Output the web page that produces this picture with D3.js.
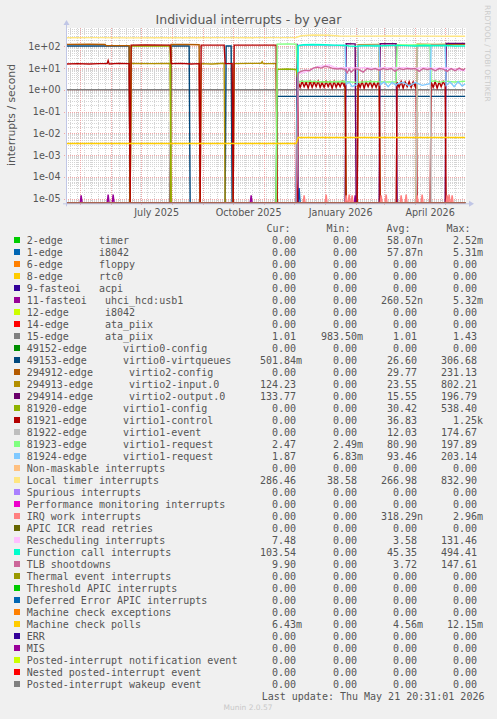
<!DOCTYPE html>
<html><head><meta charset="utf-8">
<script src="https://cdn.jsdelivr.net/npm/d3@7"></script>
<style>
html,body{margin:0;padding:0;background:#f0f0f0;}
svg{display:block;}
text{font-family:"DejaVu Sans",sans-serif;}
.mono{font-family:"DejaVu Sans Mono",monospace;font-size:10px;fill:#555;white-space:pre;}
</style></head><body>
<svg id="c" width="497" height="719"></svg>
<script>
// ---------------- DATA ----------------
const chartTitle = "Individual interrupts - by year";
const yAxisTitle = "interrupts / second";
const watermark = "RRDTOOL / TOBI OETIKER";
const lastUpdate = "Last update: Thu May 21 20:31:01 2026";
const munin = "Munin 2.0.57";
const timeStart = "2025-04-16 20:31";
const timeEnd = "2026-05-21 20:31";

const yTickValues = [1e-5, 1e-4, 1e-3, 1e-2, 1e-1, 1e0, 1e1, 1e2];
const yTickLabels = ["1e-05","1e-04","1e-03","1e-02","1e-01","1e+00","1e+01","1e+02"];
const xTickMonths = ["2025-07","2025-10","2026-01","2026-04"];
const xTickLabels = ["July 2025","October 2025","January 2026","April 2026"];

const legendNames = [
"2-edge      timer","1-edge      i8042","6-edge      floppy","8-edge      rtc0",
"9-fasteoi   acpi","11-fasteoi   uhci_hcd:usb1","12-edge      i8042","14-edge      ata_piix",
"15-edge      ata_piix","49152-edge      virtio0-config","49153-edge      virtio0-virtqueues",
"294912-edge      virtio2-config","294913-edge      virtio2-input.0","294914-edge      virtio2-output.0",
"81920-edge      virtio1-config","81921-edge      virtio1-control","81922-edge      virtio1-event",
"81923-edge      virtio1-request","81924-edge      virtio1-request",
"Non-maskable interrupts","Local timer interrupts","Spurious interrupts",
"Performance monitoring interrupts","IRQ work interrupts","APIC ICR read retries",
"Rescheduling interrupts","Function call interrupts","TLB shootdowns",
"Thermal event interrupts","Threshold APIC interrupts","Deferred Error APIC interrupts",
"Machine check exceptions","Machine check polls","ERR","MIS",
"Posted-interrupt notification event","Nested posted-interrupt event","Posted-interrupt wakeup event"];

const colors = ["#00CC00","#0066B3","#FF8000","#FFCC00","#330099","#990099","#CCFF00","#FF0000","#808080",
"#008F00","#00487D","#B35A00","#B38F00","#6B006B","#8FB300","#B30000","#BEBEBE","#80FF80","#80C9FF",
"#FFC080","#FFE680","#AA80FF","#EE00CC","#FF8080","#666600","#FFBFFF","#00FFCC","#CC6699","#999900",
"#00CC00","#0066B3","#FF8000","#FFCC00","#330099","#990099","#CCFF00","#FF0000","#808080"];

const curVals = ["0.00","0.00","0.00","0.00","0.00","0.00","0.00","0.00","1.01","0.00","501.84m","0.00","124.23","133.77","0.00","0.00","0.00","2.47","1.87","0.00","286.46","0.00","0.00","0.00","0.00","7.48","103.54","9.90","0.00","0.00","0.00","0.00","6.43m","0.00","0.00","0.00","0.00","0.00"];
const minVals = ["0.00","0.00","0.00","0.00","0.00","0.00","0.00","0.00","983.50m","0.00","0.00","0.00","0.00","0.00","0.00","0.00","0.00","2.49m","6.83m","0.00","38.58","0.00","0.00","0.00","0.00","0.00","0.00","0.00","0.00","0.00","0.00","0.00","0.00","0.00","0.00","0.00","0.00","0.00"];
const avgVals = ["58.07n","57.87n","0.00","0.00","0.00","260.52n","0.00","0.00","1.01","0.00","26.60","29.77","23.55","15.55","30.42","36.83","12.03","80.90","93.46","0.00","266.98","0.00","0.00","318.29n","0.00","3.58","45.35","3.72","0.00","0.00","0.00","0.00","4.56m","0.00","0.00","0.00","0.00","0.00"];
const maxVals = ["2.52m","5.31m","0.00","0.00","0.00","5.32m","0.00","0.00","1.43","0.00","306.68","231.13","802.21","196.79","538.40","1.25k","174.67","197.89","203.14","0.00","832.90","0.00","0.00","2.96m","0.00","131.46","494.41","147.61","0.00","0.00","0.00","0.00","12.15m","0.00","0.00","0.00","0.00","0.00"];

const zeroLine = [["2025-04-16",0],["2026-05-21",0]];

const irq2 = [["2025-04-16",0.000015],["2025-04-17",0],["2026-05-21",0]];
const irq1 = [["2025-04-16",0],["2025-12-05",0],["2025-12-06",0.00003],["2025-12-07",0],["2026-05-21",0]];
const irq11 = [["2025-04-16",0],["2025-05-01",0],["2025-05-02",0.000014],["2025-05-03",0],["2025-05-28",0],["2025-05-29",0.000015],["2025-05-30",0],["2025-06-02",0],["2025-06-03",0.000015],["2025-06-04",0],["2025-10-18",0],["2025-10-19",0.000014],["2025-10-20",0],["2026-01-30",0],["2026-01-31",0.000014],["2026-02-01",0],["2026-05-21",0]];
const irq15 = [["2025-04-16",1.01],["2025-07-01",1.0],["2025-10-01",1.01],["2026-01-01",1.0],["2026-05-21",1.01]];
const irq49153 = [["2025-04-16",0],["2025-04-17",105],["2025-05-20",104],["2025-06-19",105],["2025-06-20",0],["2025-07-30",0],["2025-07-31",104],["2025-08-18",103],["2025-08-19",0],["2025-09-23",0],["2025-09-24",104],["2025-09-29",103],["2025-09-30",0],["2025-11-13",0],["2025-11-14",0.5],["2026-02-01",0.5],["2026-05-21",0.5]];
const irq294912 = [["2025-04-16",0],["2025-04-17",123],["2025-05-10",124],["2025-05-26",122],["2025-05-27",108],["2025-06-19",108],["2025-06-20",0],["2025-07-30",0],["2025-07-31",122],["2025-08-15",121],["2025-08-28",118],["2025-08-29",0],["2026-05-21",0]];
const irq294913 = [["2025-04-16",0],["2025-06-20",0],["2025-06-21",16.5],["2025-07-10",16],["2025-07-30",16.5],["2025-07-31",0],["2025-08-29",0],["2025-08-30",16],["2025-09-10",15.5],["2025-09-22",16.5],["2025-09-23",0],["2025-10-01",0],["2025-10-02",16],["2025-10-20",16.5],["2025-10-29",16.5],["2025-10-30",19.5],["2025-10-31",16],["2025-11-13",16],["2025-11-14",0],["2026-02-02",0],["2026-02-03",120],["2026-02-24",121],["2026-02-25",0],["2026-04-02",0],["2026-04-03",124],["2026-04-20",122],["2026-05-21",124]];
const irq294914 = [["2025-04-16",0],["2025-12-03",0],["2025-12-04",130],["2025-12-05",0],["2026-01-21",0],["2026-01-22",132],["2026-01-31",130],["2026-02-01",0],["2026-02-24",0],["2026-02-25",133],["2026-03-13",132],["2026-03-14",0],["2026-05-01",0],["2026-05-02",134],["2026-05-21",134]];
const irq81920 = [["2025-04-16",0],["2025-06-20",0],["2025-06-21",103],["2025-07-15",104],["2025-07-30",103],["2025-07-31",0],["2025-11-13",0],["2025-11-14",8.7],["2025-11-24",9],["2025-12-03",8.6],["2025-12-05",2.4],["2025-12-20",2.3],["2026-01-21",2.4],["2026-01-22",0],["2026-05-21",0]];
const irq81921 = [["2025-04-16",0],["2025-04-17",15.5],["2025-04-28",16],["2025-05-10",15.5],["2025-05-20",16],["2025-05-28",16],["2025-05-29",22],["2025-05-30",15.5],["2025-06-08",16.5],["2025-06-19",16],["2025-06-20",0],["2025-06-21",114],["2025-07-05",116],["2025-07-30",114],["2025-07-31",16],["2025-08-10",16.5],["2025-08-20",15.5],["2025-08-28",16],["2025-08-29",0],["2025-08-30",113],["2025-09-22",114],["2025-09-23",16],["2025-09-30",16],["2025-10-01",0],["2025-10-02",114],["2025-10-20",113],["2025-11-13",114],["2025-11-14",0],["2025-12-04",0],
["2025-12-05",2.3],["2025-12-07",1.3],["2025-12-09",2.4],["2025-12-11",1.4],["2025-12-13",2.2],["2025-12-15",1.2],["2025-12-17",2.4],["2025-12-19",1.3],["2025-12-21",2.3],["2025-12-23",1.4],["2025-12-25",2.5],["2025-12-27",1.3],["2025-12-29",2.2],["2025-12-31",1.3],["2026-01-02",2.4],["2026-01-04",1.4],["2026-01-06",2.3],["2026-01-08",1.2],["2026-01-10",2.4],["2026-01-12",1.3],["2026-01-14",2.2],["2026-01-16",1.4],["2026-01-18",2.4],["2026-01-20",1.5],["2026-01-21",2.0],["2026-01-22",0],["2026-02-02",0],
["2026-02-03",2.3],["2026-02-05",1.3],["2026-02-07",2.4],["2026-02-09",1.2],["2026-02-11",2.3],["2026-02-13",1.4],["2026-02-15",2.4],["2026-02-17",1.3],["2026-02-19",2.2],["2026-02-21",1.3],["2026-02-23",2.3],["2026-02-24",2.0],["2026-02-25",0],["2026-03-13",0],
["2026-03-14",2.2],["2026-03-16",1.3],["2026-03-18",2.4],["2026-03-20",1.2],["2026-03-22",2.3],["2026-03-24",1.4],["2026-03-26",2.4],["2026-03-28",1.3],["2026-03-30",2.3],["2026-04-01",1.4],["2026-04-02",2.1],["2026-04-03",0],["2026-04-16",0],
["2026-04-17",2.3],["2026-04-19",1.3],["2026-04-21",2.4],["2026-04-23",1.2],["2026-04-25",2.3],["2026-04-27",1.4],["2026-04-29",2.4],["2026-05-01",1.6],["2026-05-02",0],["2026-05-21",0]];
const irq81922 = [["2025-04-16",0],["2026-04-02",0],["2026-04-03",104],["2026-04-16",105],["2026-04-17",0],["2026-05-21",0]];
const irq81923 = [["2025-04-16",0],["2025-11-13",0],["2025-11-14",126],["2025-11-25",128],["2025-12-03",126],["2025-12-05",2.4],["2025-12-15",2.5],["2026-01-01",2.3],["2026-01-21",2.4],["2026-02-01",2.2],["2026-02-15",2.4],["2026-03-01",2.3],["2026-03-13",2.3],["2026-03-14",118],["2026-03-25",116],["2026-04-16",118],["2026-04-17",2.4],["2026-04-21",2.6],["2026-04-25",2.2],["2026-05-01",2.5],["2026-05-10",2.3],["2026-05-21",2.47]];
const irq81924 = [["2025-04-16",0],["2025-12-03",0],["2025-12-05",112],["2025-12-20",114],["2026-01-05",110],["2026-01-21",112],["2026-01-22",1.8],["2026-01-25",2.3],["2026-01-28",1.4],["2026-02-02",1.8],["2026-02-03",110],["2026-02-24",112],["2026-02-25",1.7],["2026-03-01",2.3],["2026-03-05",1.4],["2026-03-09",2.2],["2026-03-13",1.6],["2026-03-14",1.9],["2026-03-20",2.2],["2026-03-26",1.5],["2026-04-01",2.2],["2026-04-08",1.6],["2026-04-16",1.9],["2026-04-17",112],["2026-05-01",112],["2026-05-02",1.6],["2026-05-06",2.3],["2026-05-10",1.4],["2026-05-14",2.4],["2026-05-18",1.5],["2026-05-21",1.87]];
const localTimer = [["2025-04-16",248],["2025-05-15",252],["2025-06-20",245],["2025-07-20",250],["2025-08-20",248],["2025-09-20",252],["2025-10-20",250],["2025-11-20",252],["2025-12-03",255],["2025-12-08",305],["2025-12-20",330],["2026-01-05",325],["2026-01-15",300],["2026-02-10",295],["2026-03-10",298],["2026-04-10",295],["2026-05-21",290]];
const irqWork = [["2025-04-16",0],["2025-12-10",0],["2025-12-11",0.000014],["2025-12-12",0],["2026-01-01",0],["2026-01-02",0.000015],["2026-01-03",0],["2026-01-21",0],["2026-01-22",0.000014],["2026-01-23",0],["2026-01-24",0],["2026-01-25",0.000015],["2026-01-26",0],["2026-01-27",0],["2026-01-28",0.000014],["2026-01-29",0],["2026-02-25",0],["2026-02-26",0.000014],["2026-02-27",0],["2026-03-02",0],["2026-03-03",0.000015],["2026-03-04",0],["2026-03-17",0],["2026-03-18",0.000014],["2026-03-19",0],["2026-03-22",0],["2026-03-23",0.000015],["2026-03-24",0],["2026-04-02",0],["2026-04-03",0.000014],["2026-04-04",0],["2026-04-07",0],["2026-04-08",0.000015],["2026-04-09",0],["2026-05-02",0],["2026-05-03",0.000014],["2026-05-04",0],["2026-05-05",0.000015],["2026-05-06",0],["2026-05-07",0],["2026-05-08",0.000014],["2026-05-09",0],["2026-05-21",0]];
const resched = [["2025-04-16",0],["2025-12-03",0],["2025-12-05",5.5],["2025-12-10",6.2],["2025-12-15",7.5],["2025-12-20",9.5],["2025-12-25",12],["2026-01-01",13],["2026-01-05",14],["2026-01-10",11],["2026-01-15",10],["2026-01-21",10.5],["2026-02-01",10],["2026-02-10",10.5],["2026-02-20",9.5],["2026-03-01",10.5],["2026-03-10",10],["2026-03-20",10.5],["2026-04-01",9.5],["2026-04-10",10.5],["2026-04-20",9.5],["2026-05-01",10],["2026-05-10",9],["2026-05-21",7.48]];
const funcCall = [["2025-04-16",0],["2025-12-03",0],["2025-12-05",105],["2025-12-10",118],["2025-12-20",122],["2026-01-01",118],["2026-01-10",114],["2026-01-21",110],["2026-01-25",104],["2026-02-01",100],["2026-02-10",108],["2026-02-20",104],["2026-03-01",107],["2026-03-10",110],["2026-03-20",108],["2026-04-01",104],["2026-04-10",110],["2026-04-20",107],["2026-05-01",109],["2026-05-10",104],["2026-05-21",103.5]];
const tlb = [["2025-04-16",0],["2025-12-03",0],["2025-12-05",6],["2025-12-08",7],["2025-12-12",8],["2025-12-16",7.5],["2025-12-20",10],["2025-12-24",11],["2025-12-28",10],["2026-01-01",12],["2026-01-05",11],["2026-01-09",9.5],["2026-01-13",9],["2026-01-17",9.5],["2026-01-21",8.5],["2026-01-23",6],["2026-01-25",9],["2026-01-27",6.5],["2026-01-31",9.5],["2026-02-04",8.5],["2026-02-08",6.5],["2026-02-12",9.5],["2026-02-16",8.5],["2026-02-20",9.5],["2026-02-24",8],["2026-02-28",9.5],["2026-03-04",8.5],["2026-03-08",9.5],["2026-03-12",7],["2026-03-16",9.5],["2026-03-20",8.5],["2026-03-24",9.5],["2026-03-28",9],["2026-04-01",9.5],["2026-04-05",7],["2026-04-09",9.5],["2026-04-13",8.5],["2026-04-17",9.5],["2026-04-21",7.5],["2026-04-25",9.5],["2026-04-29",9],["2026-05-03",7],["2026-05-07",9.5],["2026-05-11",7.5],["2026-05-15",10],["2026-05-19",8],["2026-05-21",9.9]];
const mcPolls = [["2025-04-16",0.0034],["2025-08-01",0.0034],["2025-12-03",0.0034],["2025-12-05",0.0064],["2026-05-21",0.0064]];

// table built from the arrays above (legend order = drawing order)
const seriesData = [irq2, irq1, zeroLine, zeroLine, zeroLine, irq11, zeroLine, zeroLine, irq15, zeroLine,
  irq49153, irq294912, irq294913, irq294914, irq81920, irq81921, irq81922, irq81923, irq81924,
  zeroLine, localTimer, zeroLine, zeroLine, irqWork, zeroLine, resched, funcCall, tlb,
  zeroLine, zeroLine, zeroLine, zeroLine, mcPolls, zeroLine, zeroLine, zeroLine, zeroLine, zeroLine];

// ---------------- DRAW ----------------
const svg = d3.select("#c");
const W = 497;
const plot = {left: 66, right: 466, top: 28, bottom: 203.3};
const pt = d3.timeParse("%Y-%m-%d %H:%M");
const pd = d3.timeParse("%Y-%m-%d");
const pm = d3.timeParse("%Y-%m");
const t0 = pt(timeStart), t1 = pt(timeEnd);

const x = d3.scaleTime().domain([t0, t1]).range([plot.left, plot.right]);
const yMin = Math.pow(10, -5.22), yMax = Math.pow(10, 2.843);
const y = d3.scaleLog().domain([yMin, yMax]).range([plot.bottom, plot.top]).clamp(true);

svg.append("rect").attr("width", W).attr("height", 719).attr("fill", "#f0f0f0");
svg.append("rect").attr("x", plot.left).attr("y", plot.top)
  .attr("width", plot.right - plot.left).attr("height", plot.bottom - plot.top).attr("fill", "#ffffff");

const grid = svg.append("g");
for (let k = -6; k <= 2; k++) {
  for (let m = 2; m <= 9; m++) {
    const v = m * Math.pow(10, k);
    if (v <= yMin || v >= yMax) continue;
    grid.append("line").attr("x1", plot.left).attr("x2", plot.right)
      .attr("y1", Math.round(y(v)) + 0.5).attr("y2", Math.round(y(v)) + 0.5)
      .attr("stroke", "#d4d4d4").attr("stroke-dasharray", "1,1");
  }
}
d3.timeMonday.range(t0, t1).forEach(d => {
  const xx = Math.round(x(d)) + 0.5;
  grid.append("line").attr("x1", xx).attr("x2", xx).attr("y1", plot.top).attr("y2", plot.bottom)
    .attr("stroke", "#d4d4d4").attr("stroke-dasharray", "1,1");
});
yTickValues.forEach(v => {
  const yy = Math.round(y(v)) + 0.5;
  grid.append("line").attr("x1", plot.left - 2).attr("x2", plot.right)
    .attr("y1", yy).attr("y2", yy).attr("stroke", "#f0a8a8").attr("stroke-dasharray", "1,1");
});
d3.timeMonth.range(t0, t1).forEach(d => {
  const xx = Math.round(x(d)) + 0.5;
  grid.append("line").attr("x1", xx).attr("x2", xx).attr("y1", plot.top).attr("y2", plot.bottom + 2)
    .attr("stroke", "#f0a8a8").attr("stroke-dasharray", "1,1");
});

svg.append("clipPath").attr("id", "clip").append("rect")
  .attr("x", plot.left).attr("y", plot.top - 1).attr("width", plot.right - plot.left + 1)
  .attr("height", plot.bottom - plot.top + 1);
const line = d3.line()
  .x(d => x(pd(d[0])))
  .y(d => y(d[1] <= yMin ? yMin : d[1]));
const gS = svg.append("g").attr("clip-path", "url(#clip)");
seriesData.forEach((data, i) => {
  gS.append("path").attr("d", line(data)).attr("fill", "none")
    .attr("stroke", colors[i]).attr("stroke-width", 1.4).attr("stroke-linejoin", "miter");
});

const axisCol = "#c0c6e6";
svg.append("line").attr("x1", plot.left - 3).attr("x2", plot.right + 4)
  .attr("y1", plot.bottom + 0.5).attr("y2", plot.bottom + 0.5).attr("stroke", axisCol);
svg.append("path").attr("d", `M${plot.right + 3},${plot.bottom - 2.5}L${plot.right + 8},${plot.bottom + 0.5}L${plot.right + 3},${plot.bottom + 3.5}Z`).attr("fill", axisCol);
svg.append("line").attr("x1", plot.left + 0.5).attr("x2", plot.left + 0.5)
  .attr("y1", plot.bottom + 3).attr("y2", plot.top - 4).attr("stroke", axisCol);
svg.append("path").attr("d", `M${plot.left - 2.5},${plot.top - 3}L${plot.left + 0.5},${plot.top - 8}L${plot.left + 3.5},${plot.top - 3}Z`).attr("fill", axisCol);

yTickValues.forEach((v, i) => {
  svg.append("text").attr("x", 60.5).attr("y", y(v) + 3.5).attr("text-anchor", "end")
    .attr("font-size", "9.6px").attr("fill", "#555").text(yTickLabels[i]);
});
xTickMonths.forEach((m, i) => {
  const a = pm(m), b = d3.timeMonth.offset(a, 1);
  const xc = (x(a) + x(b)) / 2;
  svg.append("text").attr("x", xc).attr("y", 215.5).attr("text-anchor", "middle")
    .attr("font-size", "9.6px").attr("fill", "#555").text(xTickLabels[i]);
});

svg.append("text").attr("x", 248.5).attr("y", 23.5).attr("text-anchor", "middle")
  .attr("font-size", "12.5px").attr("fill", "#555").text(chartTitle);
svg.append("text").attr("transform", "translate(15,115) rotate(-90)").attr("text-anchor", "middle")
  .attr("font-size", "10.8px").attr("fill", "#555").text(yAxisTitle);
svg.append("text").attr("transform", "translate(485,5) rotate(90)").attr("text-anchor", "start")
  .attr("font-size", "7.5px").attr("fill", "#cccccc").text(watermark);

const lg = svg.append("g");
const hdr = ["Cur:", "Min:", "Avg:", "Max:"];
const hdrX = [266.5, 326.5, 386.5, 446.5];
hdr.forEach((h, i) => lg.append("text").attr("class", "mono").attr("x", hdrX[i]).attr("y", 231.5).text(h));
const colEnd = [296, 357, 417, 477];
const cols = [curVals, minVals, avgVals, maxVals];
legendNames.forEach((name, i) => {
  const by = 243.5 + 12 * i;
  lg.append("rect").attr("x", 14).attr("y", by - 6.5).attr("width", 6).attr("height", 6).attr("fill", colors[i]);
  lg.append("text").attr("class", "mono").attr("x", 26.7).attr("y", by).attr("xml:space", "preserve").text(name);
  cols.forEach((col, c) => {
    const s = col[i];
    const m = s.match(/^([0-9.]+)([a-zA-Z]?)$/);
    lg.append("text").attr("class", "mono").attr("x", colEnd[c]).attr("y", by).attr("text-anchor", "end").text(m[1]);
    if (m[2]) lg.append("text").attr("class", "mono").attr("x", colEnd[c]).attr("y", by).text(m[2]);
  });
});
lg.append("text").attr("class", "mono").attr("x", 261.7).attr("y", 699.5).attr("xml:space", "preserve").text(lastUpdate);
svg.append("text").attr("x", 248).attr("y", 710).attr("text-anchor", "middle")
  .attr("font-size", "7.5px").attr("fill", "#c8c8c8").text(munin);
</script></body></html>
